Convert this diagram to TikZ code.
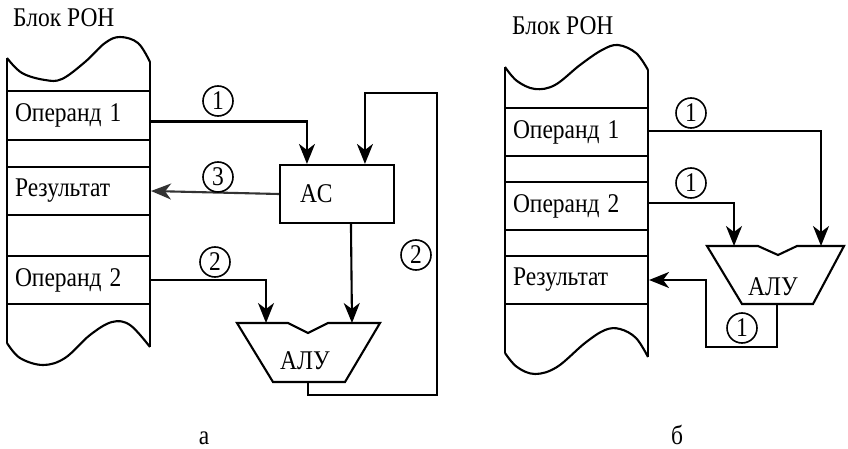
\documentclass[tikz,border=0pt]{standalone}
\usepackage{fontspec}
\setmainfont{Liberation Serif}
\usetikzlibrary{arrows.meta,calc}
\newcommand\vstretch[1]{\scalebox{1}[1.15]{#1}}
\tikzset{
  ln/.style={line width=2.1pt},
  arr/.style={ln, -{Stealth[length=20pt,width=16pt,inset=6pt]}},
  txt/.style={font=\fontsize{23.5}{28}\selectfont},
  regrow/.style={draw, ln, txt, minimum width=143pt, text width=127pt, inner xsep=8pt, inner ysep=0pt, align=left},
  num/.style={circle, draw, line width=1.6pt, minimum size=30pt, inner sep=0pt, txt},
  lbl/.style={txt, inner sep=0pt},
}
\begin{document}
\begin{tikzpicture}[x=1pt,y=-1pt]
\useasboundingbox (0,0) rectangle (848,449);

% ================= (a) =================
\node[lbl, anchor=base west] (titlea) at (13,27) {\vstretch{Блок РОН}};
% register outline
\draw[ln] (7,343) -- (7,58);
\draw[ln] (150,347) -- (150,62);
\draw[ln] plot[smooth, tension=0.6] coordinates {(7,58) (22,73) (45,80) (62,79) (85,62) (105,43) (120,37) (138,43) (150,62)};
\draw[ln] plot[smooth, tension=0.6] coordinates {(7,343) (20,358) (43,365) (65,358) (90,335) (112,322) (130,325) (150,347)};
\node[regrow, minimum height=49pt] (op1a) at (78.5,115.5) {\vstretch{Операнд 1}};
\node[regrow, minimum height=48pt] (resa) at (78.5,191) {\vstretch{Результат}};
\node[regrow, minimum height=48pt] (op2a) at (78.5,280) {\vstretch{Операнд 2}};

% AC
\node[draw, ln, txt, minimum width=114pt, minimum height=58pt, text width=74pt, inner xsep=20pt, align=left] (ac) at (337,194) {\vstretch{AC}};

% ALU (a)
\draw[ln] (237,323) -- (288,323) -- (308,333) -- (328,323) -- (380,323) -- (345,382) -- (273,382) -- cycle;
\node[lbl] (alua) at (305,361) {\vstretch{АЛУ}};
\coordinate (alua-in1) at (266,323);
\coordinate (alua-in2) at (352,323);
\coordinate (alua-out) at (308,382);
\coordinate (fb-a) at (437,93);

% connectors (a)
\draw[arr] ([yshift=-6pt]op1a.east) -| ([xshift=28pt]ac.north west);
\draw[arr, black!80] (ac.west) -- (resa.east);
\draw[arr] ([xshift=72pt]ac.south west) -- (alua-in2);
\draw[arr] (op2a.east) -| (alua-in1);
\draw[arr] (alua-out) -- (308,395) -| (fb-a) -| ([xshift=86pt]ac.north west);

\node[num] (n1a) at (218,101) {\vstretch{1}};
\node[num] (n3a) at (218,177) {\vstretch{3}};
\node[num] (n2a) at (215,262) {\vstretch{2}};
\node[num] (n2b) at (416,255) {\vstretch{2}};

\node[lbl, anchor=base] (capa) at (204,444) {\vstretch{а}};

% ================= (b) =================
\node[lbl, anchor=base west] (titleb) at (512,35) {\vstretch{Блок РОН}};
\draw[ln] (505,353) -- (505,67);
\draw[ln] (648,357) -- (648,70);
\draw[ln] plot[smooth, tension=0.6] coordinates {(505,67) (517,81) (535,89) (555,85) (580,65) (602,50) (618,45) (636,53) (648,70)};
\draw[ln] plot[smooth, tension=0.6] coordinates {(505,353) (517,367) (535,374) (557,367) (585,343) (605,330) (620,329) (636,338) (648,357)};
\node[regrow, minimum height=48pt] (op1b) at (576.5,132) {\vstretch{Операнд 1}};
\node[regrow, minimum height=48pt] (op2b) at (576.5,206) {\vstretch{Операнд 2}};
\node[regrow, minimum height=48pt] (resb) at (576.5,280) {\vstretch{Результат}};

% ALU (b)
\draw[ln] (707,246) -- (758,246) -- (778,255) -- (797,246) -- (844,246) -- (813,304) -- (742,304) -- cycle;
\node[lbl] (alub) at (773,287) {\vstretch{АЛУ}};
\coordinate (alub-in1) at (734,246);
\coordinate (alub-in2) at (821,246);
\coordinate (alub-out) at (777,304);
\coordinate (loop-b) at (706,347);

\draw[arr] ([yshift=1pt]op1b.east) -| (alub-in2);
\draw[arr] ([yshift=3pt]op2b.east) -| (alub-in1);
\draw[arr] (alub-out) |- (loop-b) |- (resb.east);

\node[num] (n1b) at (691,113) {\vstretch{1}};
\node[num] (n1c) at (691,183) {\vstretch{1}};
\node[num] (n1d) at (742,328) {\vstretch{1}};

\node[lbl, anchor=base] (capb) at (677,444) {\vstretch{б}};
\end{tikzpicture}
\end{document}
